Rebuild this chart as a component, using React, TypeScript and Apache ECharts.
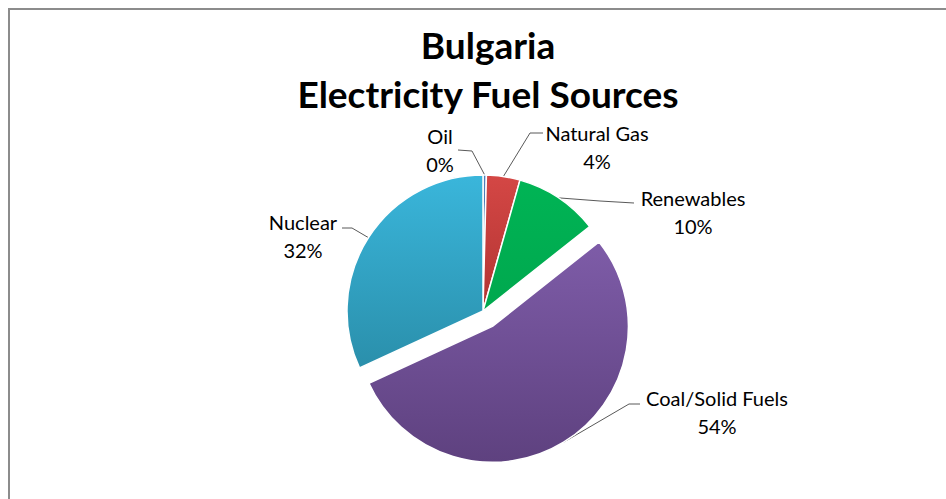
import React, { useEffect, useRef } from "react";
import * as echarts from "echarts";

const titleLines = ["Bulgaria", "Electricity Fuel Sources"];
const categories = ["Oil", "Natural Gas", "Renewables", "Coal/Solid Fuels", "Nuclear"];
const values = [0.4, 4, 10, 54, 32];
const exploded = ["Coal/Solid Fuels"];

// label placement (centre of the two-line label block) and the elbow/end of its leader line
const labelPlacement: Record<string, { c: [number, number]; elbow: [number, number]; end: [number, number] }> = {
  Oil: { c: [440, 150], elbow: [472, 151], end: [458, 150] },
  "Natural Gas": { c: [597, 147], elbow: [530, 133], end: [543, 133] },
  Renewables: { c: [693, 212], elbow: [600, 201], end: [634, 203] },
  "Coal/Solid Fuels": { c: [717, 412], elbow: [629, 404], end: [640, 404] },
  Nuclear: { c: [303, 236], elbow: [352, 228], end: [342, 228] },
};

const CENTER: [number, number] = [483, 311];
const RADIUS = 136;
const EXPLODE_OFFSET = 18;

const grad = (top: string, bottom: string) =>
  new echarts.graphic.LinearGradient(0, 0, 0, 1, [
    { offset: 0, color: top },
    { offset: 1, color: bottom },
  ]);

const sliceColors: Record<string, any> = {
  Oil: grad("#4F81BD", "#3F6BA0"),
  "Natural Gas": grad("#D44745", "#B23432"),
  Renewables: grad("#00B455", "#00A84E"),
  "Coal/Solid Fuels": grad("#7E5CA8", "#5E417F"),
  Nuclear: grad("#3AB6DB", "#2A8FAB"),
};

export default function App() {
  const ref = useRef<HTMLDivElement>(null);
  useEffect(() => {
    document.body.style.margin = "0";
    const chart = echarts.init(ref.current!, undefined, { renderer: "svg" });

    const total = values.reduce((a, b) => a + b, 0);
    const exIdx = categories.indexOf(exploded[0]);
    const before = values.slice(0, exIdx).reduce((a, b) => a + b, 0);
    const mid = ((before + values[exIdx] / 2) / total) * Math.PI * 2;
    const exCenter: [number, number] = [
      CENTER[0] + EXPLODE_OFFSET * Math.sin(mid),
      CENTER[1] - EXPLODE_OFFSET * Math.cos(mid),
    ];

    const labelLayout = (params: any) => {
      const name = categories[params.dataIndex];
      const pl = labelPlacement[name];
      const start = params.labelLinePoints ? params.labelLinePoints[0] : pl.elbow;
      return {
        x: pl.c[0],
        y: pl.c[1],
        align: "center",
        verticalAlign: "middle",
        hideOverlap: false,
        labelLinePoints: [start, pl.elbow, pl.end],
      };
    };

    const makeData = (visible: (c: string) => boolean) =>
      categories.map((c, i) => {
        const vis = visible(c);
        return {
          name: c,
          value: values[i],
          itemStyle: vis
            ? { color: sliceColors[c], borderColor: "#ffffff", borderWidth: 1.5 }
            : { color: "rgba(0,0,0,0)", borderWidth: 0 },
          label: { show: vis },
          labelLine: { show: vis },
        };
      });

    const baseSeries = {
      type: "pie",
      radius: RADIUS,
      startAngle: 90,
      clockwise: true,
      percentPrecision: 0,
      avoidLabelOverlap: false,
      silent: true,
      label: {
        show: true,
        formatter: (p: any) => `${p.name}\n${Math.round(p.percent)}%`,
        fontFamily: "Lato",
        fontSize: 20,
        lineHeight: 28,
        color: "#000000",
        align: "center",
      },
      labelLine: {
        show: true,
        length: 22,
        length2: 24,
        lineStyle: { color: "#595959", width: 1 },
      },
      labelLayout,
      emphasis: { disabled: true },
    };

    chart.setOption({
      animation: false,
      backgroundColor: "#ffffff",
      title: {
        text: titleLines.join("\n"),
        left: 483,
        top: 15,
        textAlign: "center",
        textStyle: {
          fontFamily: "Lato",
          fontWeight: "bold",
          fontSize: 37,
          lineHeight: 49,
          color: "#000000",
        },
      },
      graphic: [
        {
          type: "polyline",
          shape: { points: [[9, 499], [9, 9], [946, 9]] },
          style: { stroke: "#8c8c8c", lineWidth: 2, fill: "none" },
        },
      ],
      series: [
        {
          ...baseSeries,
          name: "main",
          center: CENTER,
          data: makeData((c) => !exploded.includes(c)),
        },
        {
          ...baseSeries,
          name: "exploded",
          center: exCenter,
          data: makeData((c) => exploded.includes(c)),
        },
      ],
    });
    return () => chart.dispose();
  }, []);
  return <div ref={ref} style={{ width: 946, height: 499 }} />;
}
